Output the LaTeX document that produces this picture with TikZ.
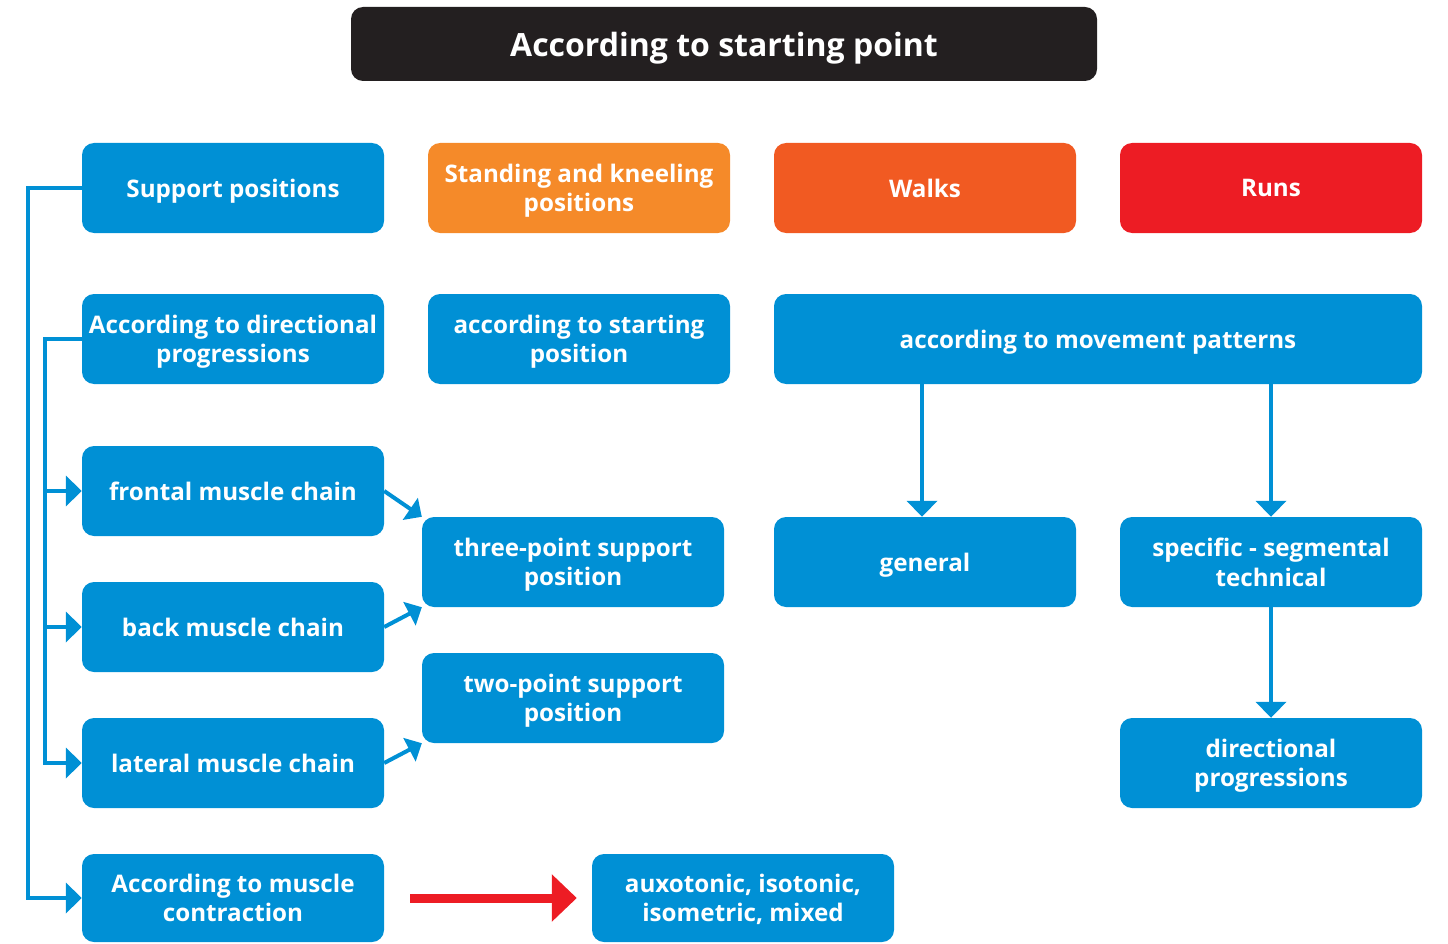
\documentclass[tikz,border=0pt]{standalone}
\usepackage{fontspec}
\setmainfont{Open Sans}
\usetikzlibrary{arrows.meta}
\definecolor{boxblue}{HTML}{0090D5}
\definecolor{boxorange}{HTML}{F58A29}
\definecolor{boxwalk}{HTML}{F15A22}
\definecolor{boxred}{HTML}{ED1C24}
\definecolor{boxblack}{HTML}{231F20}
\begin{document}
\begin{tikzpicture}[x=1pt,y=-1pt]
    \tikzstyle{box}=[fill=boxblue,text=white,rounded corners=12pt,minimum width=302pt,minimum height=90pt,
      align=center,inner sep=0pt,text depth=0pt,font=\fontsize{24.2}{29.5}\selectfont\bfseries];
    \tikzstyle{flow}=[draw=boxblue,line width=4pt,-{Triangle[width=30pt,length=16pt]}];
    \useasboundingbox (0,0) rectangle (1448,944);
    %title
    \node (title) at (724,44) [box,fill=boxblack,minimum width=746pt,minimum height=74pt,
      font=\fontsize{32}{38}\selectfont\bfseries] {According to starting point};
    %first row
    \node (support) at (233,188) [box] {Support positions};
    \node (standing) at (579,188) [box,fill=boxorange] {Standing and kneeling\\positions};
    \node (walks) at (925,188) [box,fill=boxwalk] {Walks};
    \node (runs) at (1271,188) [box,fill=boxred] {Runs};
    %second row
    \node (directional) at (233,339) [box] {According to directional\\progressions};
    \node (startpos) at (579,339) [box] {according to starting\\position};
    \node (movement) at (1098,339) [box,minimum width=648pt] {according to movement patterns};
    %left column
    \node (frontal) at (233,491) [box] {frontal muscle chain};
    \node (back) at (233,627) [box] {back muscle chain};
    \node (lateral) at (233,763) [box] {lateral muscle chain};
    \node (contraction) at (233,898) [box,minimum height=88pt] {According to muscle\\contraction};
    %middle column
    \node (threepoint) at (573,562) [box] {three-point support\\position};
    \node (twopoint) at (573,698) [box] {two-point support\\position};
    \node (auxotonic) at (743,898) [box,minimum height=88pt] {auxotonic, isotonic,\\isometric, mixed};
    %right columns
    \node (general) at (925,562) [box] {general};
    \node (specific) at (1271,562) [box] {specific - segmental\\technical};
    \node (dirprog) at (1271,763) [box] {directional\\progressions};
    %connectors
    \coordinate (outer) at (28,0);
    \coordinate (inner) at (45,0);
    \coordinate (leftdrop) at (922,0);
    \draw[flow] (support.west) -- (outer |- support.west) |- (contraction.west);
    \draw[flow] (directional.west) -- (inner |- directional.west) |- (lateral.west);
    \draw[flow] (inner |- frontal.west) -- (frontal.west);
    \draw[flow] (inner |- back.west) -- (back.west);
    \draw[flow,-{Triangle[width=26pt,length=14pt]}] (frontal.east) -- (threepoint.north west);
    \draw[flow,-{Triangle[width=26pt,length=14pt]}] (back.east) -- (threepoint.south west);
    \draw[flow,-{Triangle[width=26pt,length=14pt]}] (lateral.east) -- (twopoint.south west);
    \draw[flow] (leftdrop |- movement.south) -- (leftdrop |- general.north);
    \draw[flow] (specific.north |- movement.south) -- (specific.north);
    \draw[flow] (specific.south) -- (dirprog.north);
    \draw[draw=boxred,line width=9pt,-{Triangle[width=46pt,length=25pt]},shorten <=26pt,shorten >=15pt]
      (contraction.east) -- (auxotonic.west);
\end{tikzpicture}
\end{document}
